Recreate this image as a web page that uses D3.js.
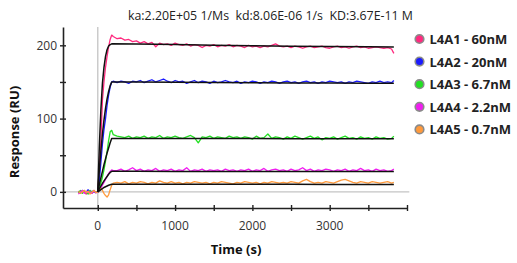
<!DOCTYPE html>
<html><head><meta charset="utf-8">
<script src="https://cdn.jsdelivr.net/npm/d3@7"></script>
<style>body{margin:0;background:#fff}svg{display:block}</style>
</head><body><svg id="c" width="517" height="263"></svg>
<script>
const titleText = "ka:2.20E+05 1/Ms  kd:8.06E-06 1/s  KD:3.67E-11 M";
const seriesNames = ["L4A1 - 60nM","L4A2 - 20nM","L4A3 - 6.7nM","L4A4 - 2.2nM","L4A5 - 0.7nM"];
const seriesColors = ["#ff2a7f","#1a1aff","#22e022","#f01ef0","#ff9a3c"];
const xTicks = [0,500,1000,1500,2000,2500,3000,3500,4000];
const xTickLabels = [0,1000,2000,3000];
const yTicks = [0,50,100,150,200];
const yTickLabels = [0,100,200];

const dataTime = [-250,-225,-200,-175,-150,-125,-100,-75,-50,-25,0,
 20,40,60,80,100,120,140,160,180,200,
 250,300,350,400,450,500,550,600,650,700,750,800,850,900,950,1000,
 1050,1100,1150,1200,1250,1300,1350,1400,1450,1500,1550,1600,1650,1700,1750,1800,
 1850,1900,1950,2000,2050,2100,2150,2200,2250,2300,2350,2400,2450,2500,2550,2600,
 2650,2700,2750,2800,2850,2900,2950,3000,3050,3100,3150,3200,3250,3300,3350,3400,
 3450,3500,3550,3600,3650,3700,3750,3800,3830];

const dataL4A1 = [-2,1,-1,2,-3,0,1,-2,2,-1,0,
 30,70,125,150,170,185,198,208,214,212,
 209,210,207,208,205,206,203,205,202,204,198,203,201,202,200,203,
 201,200,202,199,201,200,197,200,199,201,198,200,199,201,198,200,
 199,197,200,198,199,197,199,198,200,202,199,198,199,197,199,198,
 196,198,199,197,198,199,197,196,198,199,197,198,196,198,199,197,
 198,196,197,198,197,196,197,195,189];
const dataL4A2 = [1,-2,2,0,-1,3,-2,1,0,-1,0,
 15,40,65,85,100,118,132,143,150,151,
 149,151,150,148,151,150,152,149,151,153,150,152,154,151,149,152,
 150,151,148,150,152,149,151,150,148,151,149,150,152,150,149,151,
 148,150,149,151,150,148,150,149,151,150,148,150,151,149,150,148,
 150,151,149,150,148,150,149,151,150,149,150,148,150,149,151,150,
 149,148,150,149,151,149,150,149,152];
const dataL4A3 = [-1,2,-2,1,0,-3,2,-1,1,0,0,
 5,12,20,30,42,55,70,82,84,78,
 76,75,74,76,73,75,74,76,73,75,74,77,73,75,74,76,
 74,73,75,77,74,67,75,74,76,73,75,74,73,76,74,75,
 73,75,74,72,76,73,74,79,73,75,74,72,75,73,76,74,
 72,74,76,73,75,71,74,73,75,72,74,76,73,74,72,75,
 73,74,72,75,73,74,72,73,76];
const dataL4A4 = [-3,0,2,-2,1,-1,0,-2,1,-1,0,
 2,5,9,13,17,21,25,28,30,29,
 29,31,28,30,33,29,31,28,30,29,32,28,30,29,31,28,
 30,29,33,28,30,29,31,28,30,29,30,28,31,29,30,28,
 30,29,31,28,30,29,32,28,30,31,29,30,28,31,29,30,
 33,29,31,28,30,29,31,30,28,30,29,31,28,30,29,32,
 29,30,28,31,29,30,28,29,31];
const dataL4A5 = [1,-2,0,2,-1,1,-3,0,2,-1,0,
 3,5,2,-2,-5,-7,-4,3,9,12,
 13,12,14,11,13,12,14,13,11,13,12,15,13,12,14,12,
 13,11,13,12,14,13,12,13,11,13,12,14,13,12,11,13,
 12,14,13,12,13,11,13,12,14,13,12,13,12,14,13,12,
 15,17,14,12,13,12,14,13,12,14,16,17,15,13,12,14,
 13,12,14,13,12,13,14,12,13];

const fitTime = [0,20,40,60,80,100,120,140,160,180,500,1000,1500,2000,2500,3000,3500,3830];
const fitL4A1 = [0,62,112,148,170,185,194,199,201,202,201.8,201,200.2,199.5,198.9,198.4,198,197.8];
const fitL4A2 = [0,30,56,79,98,114,127,137,145,150,150,149.6,149.3,149,148.7,148.5,148.3,148.2];
const fitL4A3 = [0,10,19,28,37,45,53,60,67,73,73,72.9,72.8,72.7,72.6,72.5,72.4,72.4];
const fitL4A4 = [0,4,8,11.5,15,18,21,24,26.5,28,28,27.9,27.9,27.8,27.8,27.7,27.7,27.7];
const fitL4A5 = [0,1.5,3,4.5,6,7,8,9,9.7,10.3,10.4,10.4,10.3,10.3,10.3,10.2,10.2,10.2];

const dataSeries = [dataL4A1,dataL4A2,dataL4A3,dataL4A4,dataL4A5];
const fitSeries = [fitL4A1,fitL4A2,fitL4A3,fitL4A4,fitL4A5];

const svg = d3.select("#c");
const x = d3.scaleLinear().domain([-450,4000]).range([63,407]);
const y = d3.scaleLinear().domain([-22,225]).range([208,27]);
const axisColor = "#222";

// reference lines
svg.append("line").attr("x1",x(0)).attr("x2",x(0)).attr("y1",y(225)).attr("y2",y(-22))
  .attr("stroke","#c4c4c4").attr("stroke-width",1.3);
svg.append("line").attr("x1",x(-450)).attr("x2",x(4030)).attr("y1",y(0)).attr("y2",y(0))
  .attr("stroke","#c4c4c4").attr("stroke-width",1.3);

// axes
const gx = svg.append("g").attr("transform",`translate(0,${y(-22)})`)
  .call(d3.axisBottom(x).tickValues(xTicks).tickSize(0).tickFormat(""));
gx.select(".domain").attr("stroke",axisColor).attr("stroke-width",1.6);
gx.selectAll(".tick").append("line").attr("y1",-3).attr("y2",3).attr("stroke",axisColor).attr("stroke-width",1.4);
const gy = svg.append("g").attr("transform",`translate(${x(-450)},0)`)
  .call(d3.axisLeft(y).tickValues(yTicks).tickSize(0).tickFormat(""));
gy.select(".domain").attr("stroke",axisColor).attr("stroke-width",1.6);
gy.selectAll(".tick").append("line").attr("x1",-3).attr("x2",3).attr("stroke",axisColor).attr("stroke-width",1.4);

svg.append("g").selectAll("text").data(xTickLabels).join("text")
  .attr("x",d=>x(d)).attr("y",230).attr("text-anchor","middle")
  .attr("font-family","Open Sans").attr("font-size",12).attr("fill","#333").text(d=>d);
svg.append("g").selectAll("text").data(yTickLabels).join("text")
  .attr("x",57).attr("y",d=>y(d)+4.3).attr("text-anchor","end")
  .attr("font-family","Open Sans").attr("font-size",12).attr("fill","#333").text(d=>d);

// data lines
const line = (t)=> d3.line().x((d,i)=>x(t[i])).y(d=>y(d));
dataSeries.forEach((s,i)=>{
  svg.append("path").attr("d",line(dataTime)(s)).attr("fill","none")
    .attr("stroke",seriesColors[i]).attr("stroke-width",1.3).attr("stroke-linejoin","round");
});
fitSeries.forEach((s,i)=>{
  svg.append("path").attr("d",line(fitTime)(s)).attr("fill","none")
    .attr("stroke","#111").attr("stroke-width",1.5).attr("stroke-linejoin","round");
});

// title
svg.append("text").attr("x",270.5).attr("y",19.5).attr("text-anchor","middle")
  .attr("font-family","Open Sans").attr("font-size",12.5).attr("fill","#222")
  .attr("textLength",285).attr("lengthAdjust","spacingAndGlyphs")
  .style("white-space","pre").text(titleText);

// axis titles
svg.append("text").attr("x",236).attr("y",254).attr("text-anchor","middle")
  .attr("font-family","Open Sans").attr("font-weight","bold").attr("font-size",13).attr("fill","#111")
  .text("Time (s)");
svg.append("text").attr("transform","translate(18.5,132) rotate(-90)").attr("text-anchor","middle")
  .attr("font-family","Open Sans").attr("font-weight","bold").attr("font-size",13).attr("fill","#111")
  .text("Response (RU)");

// legend
const lg = svg.append("g").selectAll("g").data(seriesNames).join("g")
  .attr("transform",(d,i)=>`translate(419.5,${39+i*22.6})`);
lg.append("circle").attr("r",4.3).attr("fill",(d,i)=>seriesColors[i]).attr("stroke","#8a8a8a").attr("stroke-width",1.6);
lg.append("text").attr("x",10).attr("y",5).attr("font-family","Open Sans").attr("font-weight","bold")
  .attr("font-size",13).attr("fill","#222").text(d=>d);
</script></body></html>
